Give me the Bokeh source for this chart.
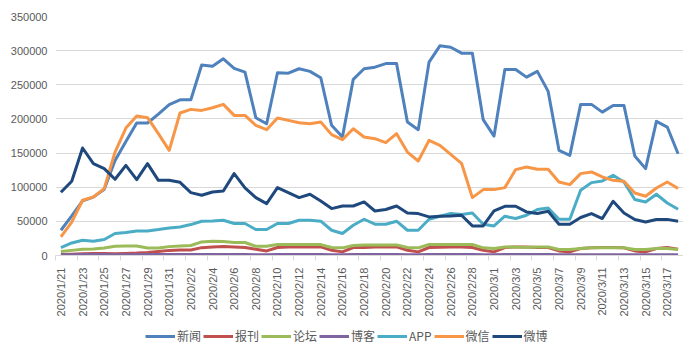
from bokeh.plotting import figure
from bokeh.models import FixedTicker, NumeralTickFormatter, Legend, LegendItem, Range1d
from bokeh.layouts import column
from bokeh.embed import file_html
from bokeh.resources import INLINE
import math

# ---- data ----
months = [(1, 21, 31), (2, 1, 29), (3, 1, 18)]
dates = []
for m, s, e in months:
    for d in range(s, e + 1):
        dates.append(f"2020/{m}/{d}")

xinwen = [37000, 58000, 80000, 85500, 97000, 139000, 167000, 194000, 194000, 207000,
          221000, 228000, 228000, 279000, 277000, 288000, 274000, 268600, 201800, 193000,
          267600, 267000, 273500, 269600, 260300, 190600, 173500, 257900, 273500, 275800,
          281000, 281000, 195400, 184300, 283200, 307000, 305000, 296300, 296300, 198900,
          174900, 272500, 272500, 261200, 269600, 240300, 154000, 146700, 221300, 221300,
          210000, 219800, 219800, 145700, 127200, 196400, 188100, 149000]
baokan = [1500, 2000, 2500, 3000, 3000, 2500, 3000, 3500, 4500, 6000,
          7500, 8000, 8000, 11500, 12500, 13000, 12600, 11700, 9200, 6700,
          11700, 12600, 12600, 12600, 12600, 7700, 5300, 11700, 11700, 12600,
          12600, 12600, 7700, 5300, 11700, 12000, 12600, 12600, 11700, 7700,
          5300, 11700, 12600, 12600, 11700, 11700, 6700, 5300, 10200, 11200,
          11700, 11700, 11200, 6700, 5300, 10200, 11700, 9200]
luntan = [6000, 7500, 9000, 9500, 11000, 13500, 14000, 14000, 11100, 11100,
          13000, 14000, 14600, 19900, 20900, 20500, 19000, 19000, 13600, 13600,
          16000, 16000, 16000, 16000, 16000, 11700, 11200, 14600, 15500, 15500,
          15500, 15500, 11700, 11200, 16100, 16100, 16100, 16100, 16100, 11200,
          10200, 12600, 12600, 11700, 12600, 12600, 8700, 8700, 10200, 11200,
          11200, 11200, 11200, 8700, 8700, 10200, 10200, 8700]
boke = [1200, 1200, 1300, 1300, 1300, 1200, 1200, 1300, 1300, 1300,
        1300, 1300, 1400, 1400, 1400, 1400, 1400, 1300, 1200, 1200,
        1300, 1300, 1300, 1300, 1300, 1200, 1100, 1300, 1300, 1300,
        1300, 1300, 1200, 1100, 1300, 1300, 1300, 1300, 1300, 1200,
        1100, 1300, 1300, 1300, 1300, 1300, 1100, 1100, 1200, 1200,
        1200, 1200, 1200, 1100, 1100, 1200, 1200, 1200]
app = [11700, 18400, 22400, 21000, 23400, 32200, 33600, 36000, 36000, 38000,
       40400, 41800, 45300, 50200, 50700, 51600, 46800, 46800, 38000, 38000,
       46800, 46800, 51600, 51600, 50200, 37000, 32200, 44300, 53100, 45800,
       45800, 50200, 37000, 37000, 53100, 57500, 61400, 60000, 62300, 45800,
       43300, 57500, 54100, 58900, 67300, 69600, 53100, 53100, 95500, 106700,
       109100, 117400, 107600, 81900, 78400, 89700, 76900, 67700]
weixin = [27200, 49000, 80900, 85700, 98000, 151500, 186600, 204200, 201800, 178400,
          154000, 208700, 214000, 212500, 216400, 221300, 205200, 205200, 190600, 184300,
          201300, 197900, 194500, 193000, 195400, 177000, 169700, 185700, 173500, 171100,
          165300, 178400, 151500, 138400, 168600, 161300, 148200, 135000, 84800, 96500,
          96500, 99400, 125800, 129600, 126200, 126200, 107600, 103800, 119900, 122300,
          115000, 110100, 108700, 91600, 86700, 98900, 107600, 98000]
weibo = [92600, 108700, 157400, 134500, 127200, 111600, 132000, 111100, 134500, 110100,
         110100, 107200, 92100, 88200, 93000, 94500, 119900, 98900, 84800, 76000,
         99400, 92100, 84800, 89700, 79900, 68700, 72500, 72500, 78400, 65200,
         67300, 72500, 62300, 61400, 56500, 57500, 57900, 58900, 43300, 43300,
         65200, 72100, 72100, 63800, 61400, 64800, 45800, 45800, 55600, 61400,
         54100, 79400, 62300, 52700, 49100, 52700, 52900, 50200]

series_names = ["新闻", "报刊", "论坛", "博客", "APP", "微信", "微博"]
series_vals = [xinwen, baokan, luntan, boke, app, weixin, weibo]
colors = ["#4F81BD", "#C0504D", "#9BBB59", "#8064A2", "#4BACC6", "#F79646", "#1F497D"]
y_ticks = [0, 50000, 100000, 150000, 200000, 250000, 300000, 350000]

n = len(dates)
xs = list(range(n))

p = figure(width=683, height=320, output_backend="svg", toolbar_location=None,
           x_range=Range1d(-0.5, n - 0.5), y_range=Range1d(0, 350000),
           min_border_left=55, min_border_right=0, min_border_top=16, min_border_bottom=65)
p.outline_line_color = None

for name, vals, c in zip(series_names, series_vals, colors):
    p.line(xs, vals, line_color=c, line_width=3, line_join="round")

label_idx = list(range(0, n, 2))
p.xaxis.ticker = FixedTicker(ticks=label_idx, minor_ticks=[i - 0.5 for i in range(0, n + 1, 2)])
p.xaxis.major_label_overrides = {i: dates[i] for i in label_idx}
p.xaxis.major_label_orientation = math.pi / 2
p.xaxis.major_tick_line_color = None
p.xaxis.major_tick_out = 0
p.xaxis.major_tick_in = 0
p.xaxis.minor_tick_line_color = "#D9D9D9"
p.xaxis.minor_tick_out = 5
p.xaxis.minor_tick_in = 0
p.xaxis.axis_line_color = "#D9D9D9"
p.xaxis.major_label_standoff = 7
p.xaxis.major_label_text_font = "Liberation Sans"
p.xaxis.major_label_text_font_size = "11px"
p.xaxis.major_label_text_color = "#595959"

p.yaxis.ticker = FixedTicker(ticks=y_ticks)
p.yaxis.formatter = NumeralTickFormatter(format="0")
p.yaxis.axis_line_color = None
p.yaxis.major_tick_line_color = None
p.yaxis.minor_tick_line_color = None
p.yaxis.major_tick_out = 0
p.yaxis.major_label_standoff = 8
p.yaxis.major_label_text_font = "Liberation Sans"
p.yaxis.major_label_text_font_size = "11px"
p.yaxis.major_label_text_color = "#595959"

p.xgrid.grid_line_color = None
p.ygrid.ticker = FixedTicker(ticks=y_ticks)
p.ygrid.grid_line_color = "#D9D9D9"
p.ygrid.grid_line_width = 1

# legend strip below the chart (dummy renderers sit outside the visible range)
lf = figure(width=683, height=30, output_backend="svg", toolbar_location=None,
            x_range=Range1d(0, 1), y_range=Range1d(0, 1),
            x_axis_type=None, y_axis_type=None,
            min_border_left=0, min_border_right=0, min_border_top=0, min_border_bottom=0)
lf.outline_line_color = None
lf.xgrid.grid_line_color = None
lf.ygrid.grid_line_color = None
items = []
for name, c in zip(series_names, colors):
    r = lf.line(x=[5, 6], y=[5, 6], line_color=c, line_width=3)
    items.append(LegendItem(label=name, renderers=[r]))
legend = Legend(items=items, orientation="horizontal", location=(90, 6),
                label_text_font="Noto Sans CJK SC", label_text_font_size="12px",
                label_text_color="#595959", glyph_width=30, glyph_height=14,
                label_standoff=2, spacing=2, padding=2, margin=0,
                border_line_color=None, background_fill_alpha=0)
lf.add_layout(legend, "center")

layout = column(p, lf, spacing=0)
open("out.html", "w").write(file_html(layout, INLINE))
